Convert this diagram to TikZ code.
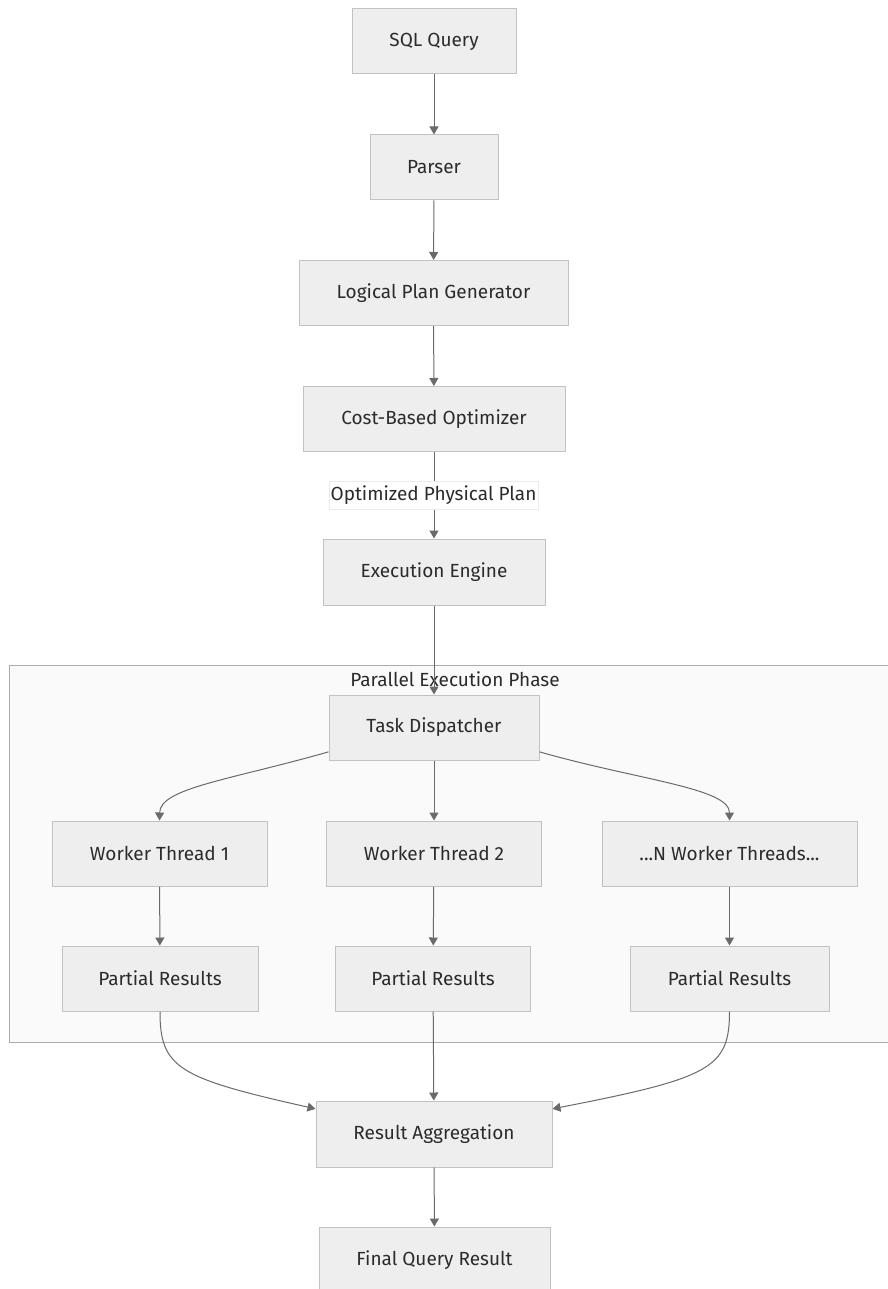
\documentclass[tikz,border=0pt]{standalone}
\usepackage{fontspec}
\setmainfont{Fira Sans}
\usetikzlibrary{arrows.meta}
\definecolor{boxfill}{HTML}{EEEEEE}
\definecolor{boxline}{HTML}{C2C2C2}
\definecolor{edgecol}{HTML}{6A6A6A}
\definecolor{txt}{HTML}{2B2B2B}
\definecolor{clfill}{HTML}{FAFAFA}
\definecolor{clline}{HTML}{ABABAB}
\begin{document}
\begin{tikzpicture}[x=1pt,y=-1pt,
  procbox/.style={draw=boxline,fill=boxfill,line width=1pt,text=txt,inner sep=0pt,
    font=\fontsize{19}{22}\selectfont,minimum height=65pt},
  flow/.style={draw=edgecol,line width=1pt,-{Triangle[length=8pt,width=9pt]}},
  lbl/.style={draw=black!8,fill=white,text=txt,inner sep=1pt,font=\fontsize{19}{22}\selectfont,
    minimum height=28pt,minimum width=209pt}]
\useasboundingbox (0,0) rectangle (887,1289);
\fill[white] (0,0) rectangle (887,1289);
% cluster
\draw[draw=clline,fill=clfill,line width=1pt] (9,665) rectangle (901,1042);
\node[text=txt,font=\fontsize{19}{22}\selectfont] (cltitle) at (455,679) {Parallel Execution Phase};
% nodes
\node[procbox,minimum width=164pt] (sql) at (434,41.5) {SQL Query};
\node[procbox,minimum width=128pt] (parser) at (434,167.5) {Parser};
\node[procbox,minimum width=269pt] (lpg) at (433.5,293) {Logical Plan Generator};
\node[procbox,minimum width=262pt] (cbo) at (434,419) {Cost-Based Optimizer};
\node[procbox,minimum width=222pt,minimum height=66pt] (exe) at (434,572) {Execution Engine};
\node[procbox,minimum width=210pt] (td) at (434,727.5) {Task Dispatcher};
\node[procbox,minimum width=215pt] (w1) at (159.5,853.5) {Worker Thread 1};
\node[procbox,minimum width=215pt] (w2) at (434,853.5) {Worker Thread 2};
\node[procbox,minimum width=255pt] (wn) at (729.5,853.5) {...N Worker Threads...};
\node[procbox,minimum width=196pt] (p1) at (160,978.5) {Partial Results};
\node[procbox,minimum width=195pt] (p2) at (433,978.5) {Partial Results};
\node[procbox,minimum width=199pt] (p3) at (729.5,978.5) {Partial Results};
\node[procbox,minimum width=236pt,minimum height=66pt] (ra) at (434,1134) {Result Aggregation};
\node[procbox,minimum width=231pt,minimum height=66pt] (fin) at (434.5,1260) {Final Query Result};
% edges
\draw[flow] (sql) -- (parser);
\draw[flow] (parser) -- (lpg);
\draw[flow] (lpg) -- (cbo);
\draw[flow] (cbo) -- (exe);
\node[lbl] (oplabel) at (433.5,495) {Optimized Physical Plan};
\draw[flow] (exe) -- (td);
\draw[flow] (td.193) .. controls (230,780) and (160,788) .. (w1.north);
\draw[flow] (td) -- (w2);
\draw[flow] (td.-13) .. controls (638,780) and (729.5,788) .. (wn.north);
\draw[flow] (w1) -- (p1);
\draw[flow] (w2) -- (p2);
\draw[flow] (wn) -- (p3);
\draw[flow] (p1.south) .. controls (160,1068) and (178,1078) .. (ra.168);
\draw[flow] (p2) -- (ra);
\draw[flow] (p3.south) .. controls (729.5,1068) and (711,1078) .. (ra.12);
\draw[flow] (ra) -- (fin);
\end{tikzpicture}
\end{document}
